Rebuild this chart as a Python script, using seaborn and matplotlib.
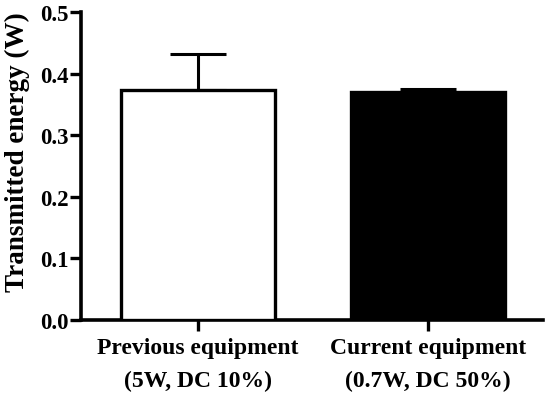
import numpy as np
import pandas as pd
import seaborn as sns
import matplotlib.pyplot as plt

categories = ["Previous equipment\n(5W, DC 10%)", "Current equipment\n(0.7W, DC 50%)"]
energy = [0.373, 0.370]
energy_err = [0.059, 0.005]
bar_colors = ["white", "black"]

df = pd.DataFrame({"group": categories, "energy": energy})

sns.set_style("ticks", {"axes.edgecolor": "black", "xtick.color": "black",
                        "ytick.color": "black", "text.color": "black",
                        "axes.labelcolor": "black"})
plt.rcParams['font.family'] = ['Liberation Serif', 'DejaVu Serif']
plt.rcParams['font.weight'] = 'bold'

fig = plt.figure(figsize=(5.5, 4.02), dpi=100)
ax = fig.add_axes([0.147, 0.2015, 0.840, 0.766])

sns.barplot(data=df, x="group", y="energy", hue="group", palette=bar_colors,
            width=0.67, edgecolor="black", linewidth=2.4, errorbar=None,
            legend=False, ax=ax, zorder=3)

ax.errorbar(np.arange(len(categories)), energy,
            yerr=[np.zeros(len(energy)), energy_err],
            fmt="none", ecolor="black", elinewidth=2.2, capsize=20,
            capthick=2.2, zorder=2)

ax.set_ylim(0, 0.5)
ax.set_xlim(-0.51, 1.5)
ax.set_yticks(np.arange(0, 0.51, 0.1))
ax.yaxis.set_major_formatter(plt.FormatStrFormatter("%.1f"))
ax.set_xlabel("")
ax.set_ylabel("Transmitted energy (W)", fontsize=19.5, fontweight="bold")
ax.yaxis.set_label_coords(-0.11, 0.55)
ax.tick_params(axis="both", width=2.4, length=8, direction="out")
ax.tick_params(axis="y", labelsize=16.5, pad=1)
ax.tick_params(axis="x", labelsize=17, pad=4)
for lab in ax.get_xticklabels() + ax.get_yticklabels():
    lab.set_fontweight("bold")
for lab in ax.get_xticklabels():
    lab.set_linespacing(1.75)

sns.despine(ax=ax)
for s in ["left", "bottom"]:
    ax.spines[s].set_linewidth(2.6)

fig.savefig("out.png", dpi=100)
